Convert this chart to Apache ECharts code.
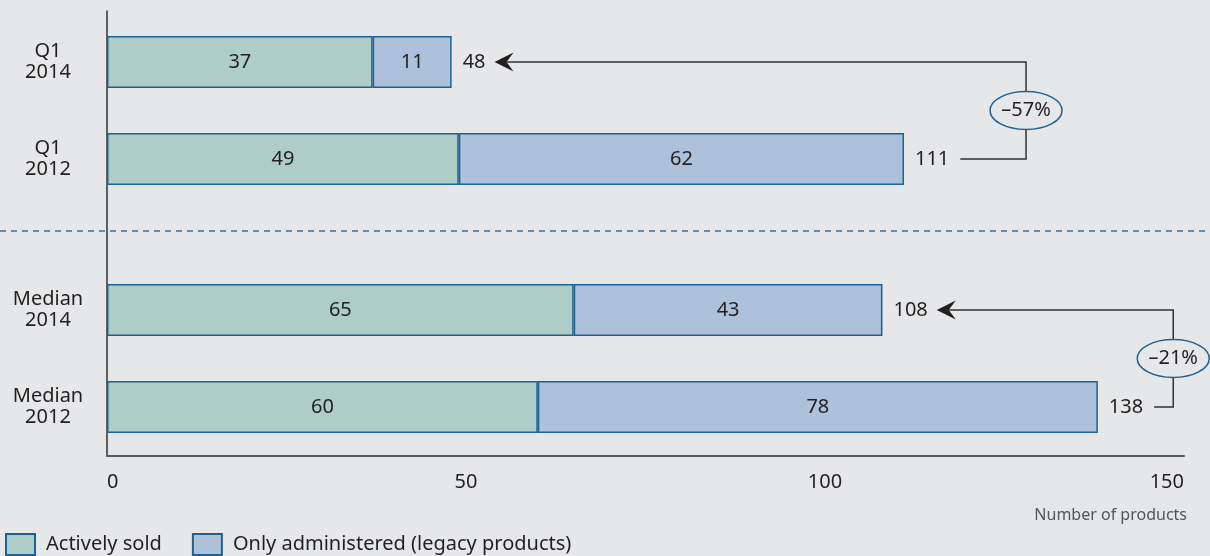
<!DOCTYPE html>
<html>
<head>
<meta charset="utf-8">
<script src="https://cdn.jsdelivr.net/npm/echarts@6/dist/echarts.min.js"></script>
<style>
  html, body { margin: 0; padding: 0; background: #e6e7e9; }
  #chart { width: 1210px; height: 556px; }
</style>
</head>
<body>
<div id="chart"></div>
<script>
// ---- data ----
const seriesNames = ['Actively sold', 'Only administered (legacy products)'];
const categoriesQ1 = ['Q1\n2014', 'Q1\n2012'];
const activeQ1 = [37, 49];
const legacyQ1 = [11, 62];
const categoriesMedian = ['Median\n2014', 'Median\n2012'];
const activeMedian = [65, 60];
const legacyMedian = [43, 78];
const changeLabels = ['–57%', '–21%'];
const xMin = 0, xMax = 150, xInterval = 50;
const axisName = 'Number of products';

// ---- derived ----
const totalsQ1 = activeQ1.map((v, i) => v + legacyQ1[i]);
const totalsMedian = activeMedian.map((v, i) => v + legacyMedian[i]);

// annotation placement (axis units) for the change brackets
const bracketQ1 = 128;
const bracketMedian = 148.5;

const BG = '#e6e7e9';
const TEXT = '#231f20';
const EDGE = '#1d6292';
const GREEN = '#adcdc6';
const BLUE = '#adc1da';
const FAM = '"Noto Sans", sans-serif';
const FS = 20;

const mctx = document.createElement('canvas').getContext('2d');
function textW(t) { mctx.font = FS + 'px ' + FAM; return mctx.measureText(String(t)).width; }

function totalsRender(params, api) {
  const p = api.coord([api.value(0), api.value(1)]);
  return {
    type: 'text', x: p[0] + 11, y: p[1],
    style: { text: String(api.value(0)), fill: TEXT, fontSize: FS, fontFamily: FAM, align: 'left', verticalAlign: 'middle' }
  };
}

function makeBracket(totals, label) {
  return function (params, api) {
    const xB = api.coord([api.value(0), 0])[0];
    const top = api.coord([totals[0], 0]);
    const bot = api.coord([totals[1], 1]);
    const tip = top[0] + 11 + textW(totals[0]) + 9;
    const start = bot[0] + 11 + textW(totals[1]) + 11;
    const yT = top[1], yB = bot[1], yM = (yT + yB) / 2;
    return {
      type: 'group',
      children: [
        { type: 'polyline', shape: { points: [[tip + 12, yT], [xB, yT], [xB, yB], [start, yB]] },
          style: { stroke: '#333333', lineWidth: 1.5, fill: 'none' } },
        { type: 'polygon', shape: { points: [[tip, yT], [tip + 19, yT - 9.5], [tip + 12, yT], [tip + 19, yT + 9.5]] },
          style: { fill: TEXT, stroke: 'none' } },
        { type: 'ellipse', shape: { cx: xB, cy: yM, rx: 36, ry: 19 },
          style: { fill: BG, stroke: EDGE, lineWidth: 1.5 } },
        { type: 'text', x: xB, y: yM,
          style: { text: label, fill: TEXT, fontSize: FS, fontFamily: FAM, align: 'center', verticalAlign: 'middle' } }
      ]
    };
  };
}

const barLabel = { show: true, position: 'inside', color: TEXT, fontSize: FS, fontFamily: FAM };
function barSeries(name, color, data, gi, stack) {
  return {
    type: 'bar', name: name, xAxisIndex: gi, yAxisIndex: gi, stack: stack, data: data,
    barWidth: 52,
    itemStyle: { color: color, borderColor: EDGE, borderWidth: 1.5 },
    label: barLabel
  };
}

const gridL = 107, gridR = 26;
const xAxisBase = { type: 'value', min: xMin, max: xMax, interval: xInterval, splitLine: { show: false } };
const yCat = (data) => ({
  type: 'category', data: data, inverse: true,
  axisLine: { show: false }, axisTick: { show: false },
  axisLabel: { color: TEXT, fontSize: FS, fontFamily: FAM, lineHeight: 21, align: 'center', margin: 59 }
});

const option = {
  backgroundColor: BG,
  animation: false,
  textStyle: { fontFamily: FAM },
  title: {
    text: axisName, right: 18, top: 502,
    textStyle: { color: '#555555', fontSize: 16, fontWeight: 'normal', fontFamily: FAM }
  },
  legend: {
    left: 5, top: 533, padding: 0, itemWidth: 29, itemHeight: 21, itemGap: 30, icon: 'rect',
    data: seriesNames,
    textStyle: { color: TEXT, fontSize: FS, fontFamily: FAM, padding: [0, 0, 0, 6] }
  },
  grid: [
    { left: gridL, right: gridR, top: 13.5, height: 194 },
    { left: gridL, right: gridR, top: 261.5, height: 194 },
    { left: gridL, right: gridR, top: 11, height: 445 }
  ],
  xAxis: [
    Object.assign({}, xAxisBase, { gridIndex: 0, show: false }),
    Object.assign({}, xAxisBase, {
      gridIndex: 1,
      axisLine: { show: true, lineStyle: { color: '#58595b', width: 2 } },
      axisTick: { show: false },
      axisLabel: { color: TEXT, fontSize: FS, fontFamily: FAM, margin: 17, alignMinLabel: 'left', alignMaxLabel: 'right' }
    }),
    Object.assign({}, xAxisBase, { gridIndex: 2, show: false })
  ],
  yAxis: [
    Object.assign(yCat(categoriesQ1), { gridIndex: 0 }),
    Object.assign(yCat(categoriesMedian), { gridIndex: 1 }),
    { type: 'category', gridIndex: 2, data: [''],
      axisLine: { show: true, lineStyle: { color: '#333333', width: 1.5 } },
      axisTick: { show: false }, axisLabel: { show: false } }
  ],
  graphic: [
    { type: 'line', z: 0, shape: { x1: 0, y1: 231, x2: 1210, y2: 231 },
      style: { stroke: '#3a6f98', lineWidth: 1.3, lineDash: [6, 5] } }
  ],
  series: [
    barSeries(seriesNames[0], GREEN, activeQ1, 0, 'q1'),
    barSeries(seriesNames[1], BLUE, legacyQ1, 0, 'q1'),
    barSeries(seriesNames[0], GREEN, activeMedian, 1, 'med'),
    barSeries(seriesNames[1], BLUE, legacyMedian, 1, 'med'),
    { type: 'custom', xAxisIndex: 0, yAxisIndex: 0, encode: { x: 0, y: 1 }, clip: false, z: 5,
      data: totalsQ1.map((t, i) => [t, i]), renderItem: totalsRender },
    { type: 'custom', xAxisIndex: 1, yAxisIndex: 1, encode: { x: 0, y: 1 }, clip: false, z: 5,
      data: totalsMedian.map((t, i) => [t, i]), renderItem: totalsRender },
    { type: 'custom', xAxisIndex: 0, yAxisIndex: 0, encode: { x: 0, y: 1 }, clip: false, z: 6,
      data: [[bracketQ1, 0]], renderItem: makeBracket(totalsQ1, changeLabels[0]) },
    { type: 'custom', xAxisIndex: 1, yAxisIndex: 1, encode: { x: 0, y: 1 }, clip: false, z: 6,
      data: [[bracketMedian, 0]], renderItem: makeBracket(totalsMedian, changeLabels[1]) }
  ]
};

const chart = echarts.init(document.getElementById('chart'), null, { renderer: 'canvas' });
chart.setOption(option);
</script>
</body>
</html>
